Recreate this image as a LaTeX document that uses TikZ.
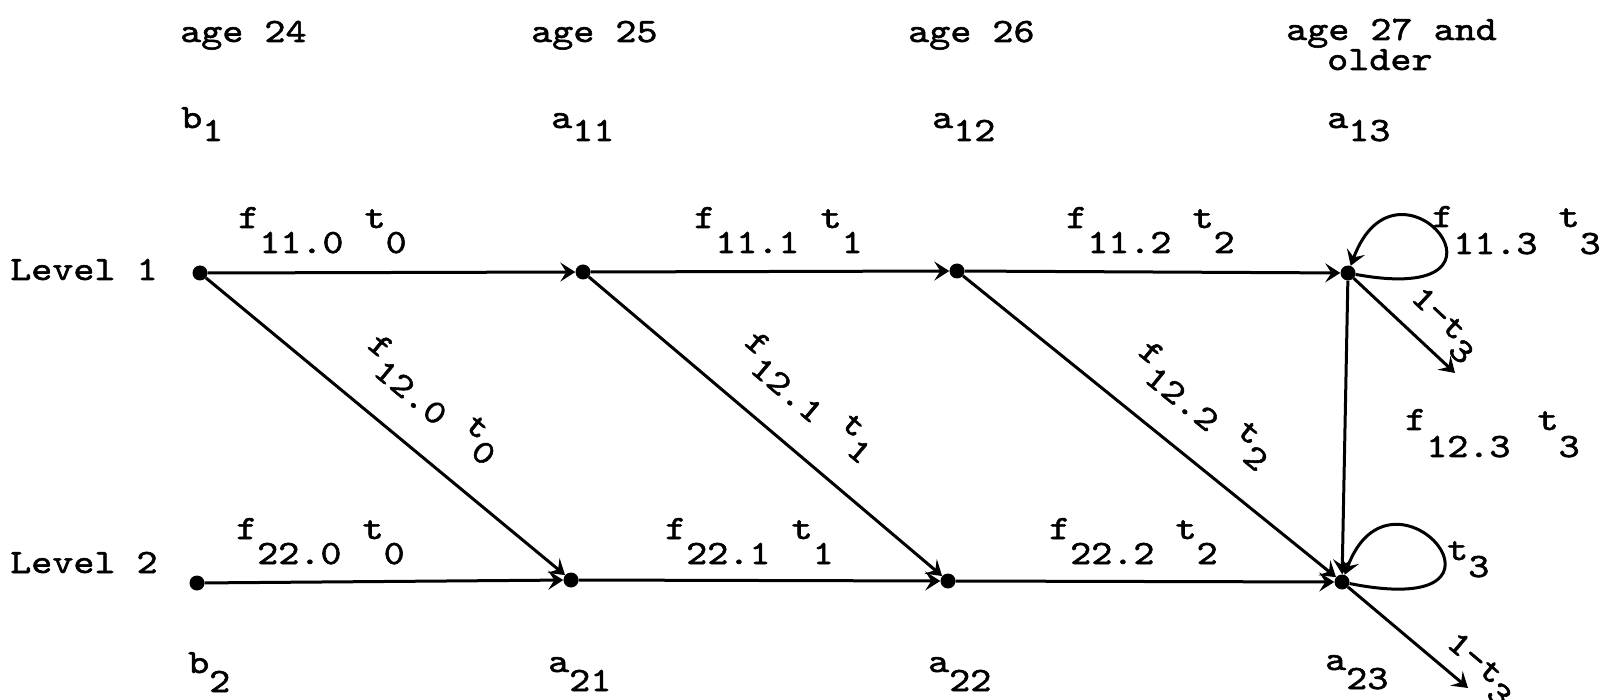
\documentclass[tikz,border=0pt]{standalone}
\usepackage{fontspec}
\usetikzlibrary{arrows.meta}
\newfontfamily\tw[FakeStretch=1.18,FakeBold=1.6]{lmmono10-regular.otf}
\newcommand\lo[2][25pt]{\raisebox{-#1}{#2}}
\begin{document}
\begin{tikzpicture}[x=1pt,y=-1pt,
  txt/.style={anchor=base west, inner sep=0pt, font=\fontsize{34}{36}\tw},
  lab/.style={inner sep=0pt, font=\fontsize{34}{36}\tw},
  dot/.style={circle, fill=black, minimum size=15pt, inner sep=0pt},
  arr/.style={line width=3pt, -{Stealth[length=15pt,width=19pt,inset=6pt]}}]
\useasboundingbox (0,0) rectangle (1604,700);

% column headings
\node[txt] (h24) at (180,42) {age 24};
\node[txt] (h25) at (531,42) {age 25};
\node[txt] (h26) at (908,42) {age 26};
\node[txt] (h27) at (1286,40) {age 27 and};
\node[txt] (h27b) at (1327,70) {older};

% state names
\node[txt] (nb1) at (181,128) {b\lo[13pt]{1}};
\node[txt] (na11) at (551,128) {a\lo[13pt]{11}};
\node[txt] (na12) at (932,128) {a\lo[13pt]{12}};
\node[txt] (na13) at (1327,128) {a\lo[13pt]{13}};
\node[txt] (nb2) at (188,673) {b\lo[19pt]{2}};
\node[txt] (na21) at (548,672) {a\lo[19pt]{21}};
\node[txt] (na22) at (928,672) {a\lo[19pt]{22}};
\node[txt] (na23) at (1325,670) {a\lo[19pt]{23}};

% level labels
\node[txt] (lv1) at (10,280) {Level 1};
\node[txt] (lv2) at (10,573) {Level 2};

% dots
\node[dot] (b1) at (200,273) {};
\node[dot] (a11) at (583,272) {};
\node[dot] (a12) at (957,271) {};
\node[dot] (a13) at (1348,273) {};
\node[dot] (b2) at (197,583) {};
\node[dot] (a21) at (571,580) {};
\node[dot] (a22) at (948,581) {};
\node[dot] (a23) at (1342,582) {};
\coordinate (e1) at (1455,373);
\coordinate (e2) at (1468,688);

% horizontal and vertical arrows
\draw[arr] (b1) -- (a11);
\draw[arr] (a11) -- (a12);
\draw[arr] (a12) -- (a13);
\draw[arr] (b2) -- (a21);
\draw[arr] (a21) -- (a22);
\draw[arr] (a22) -- (a23);
\draw[arr] (a13) -- (a23);

% horizontal labels
\node[txt] (f110) at (238,228) {f\lo{11.0} t\lo{0}};
\node[txt] (f111) at (694,228) {f\lo{11.1} t\lo{1}};
\node[txt] (f112) at (1066,228) {f\lo{11.2} t\lo{2}};
\node[txt] (f113) at (1432,227) {f\lo[27pt]{11.3} t\lo[27pt]{3}};
\node[txt] (f220) at (236,539) {f\lo{22.0} t\lo{0}};
\node[txt] (f221) at (665,539) {f\lo{22.1} t\lo{1}};
\node[txt] (f222) at (1049,539) {f\lo{22.2} t\lo{2}};
\node[txt] (f123) at (1405,430) {f\lo[27pt]{12.3}\hspace{6pt} t\lo[27pt]{3}};
\node[txt] (t3) at (1447,560) {t\lo[17pt]{3}};

% diagonal arrows
\draw[arr] (b1) -- node[lab, sloped, above=30pt, pos=0.54] (f120) {f\lo[17pt]{12.0} t\lo[17pt]{0}} (a21);
\draw[arr] (a11) -- node[lab, sloped, above=30pt, pos=0.53] (f121) {f\lo[17pt]{12.1} t\lo[17pt]{1}} (a22);
\draw[arr] (a12) -- node[lab, sloped, above=30pt, pos=0.56] (f122) {f\lo[17pt]{12.2} t\lo[17pt]{2}} (a23);

% exits
\draw[arr] (a13) -- node[lab, sloped, above=8pt, pos=0.70] (x1) {1-t\lo[13pt]{3}} (e1);
\draw[arr] (a23) -- node[lab, sloped, above=3pt, pos=0.98] (x2) {1-t\lo[13pt]{3}} (e2);

% loops
\draw[arr] (a13) .. controls +(190,35) and +(50,-135) .. (a13);
\draw[arr] (a23) .. controls +(200,40) and +(50,-135) .. (a23);
\end{tikzpicture}
\end{document}
